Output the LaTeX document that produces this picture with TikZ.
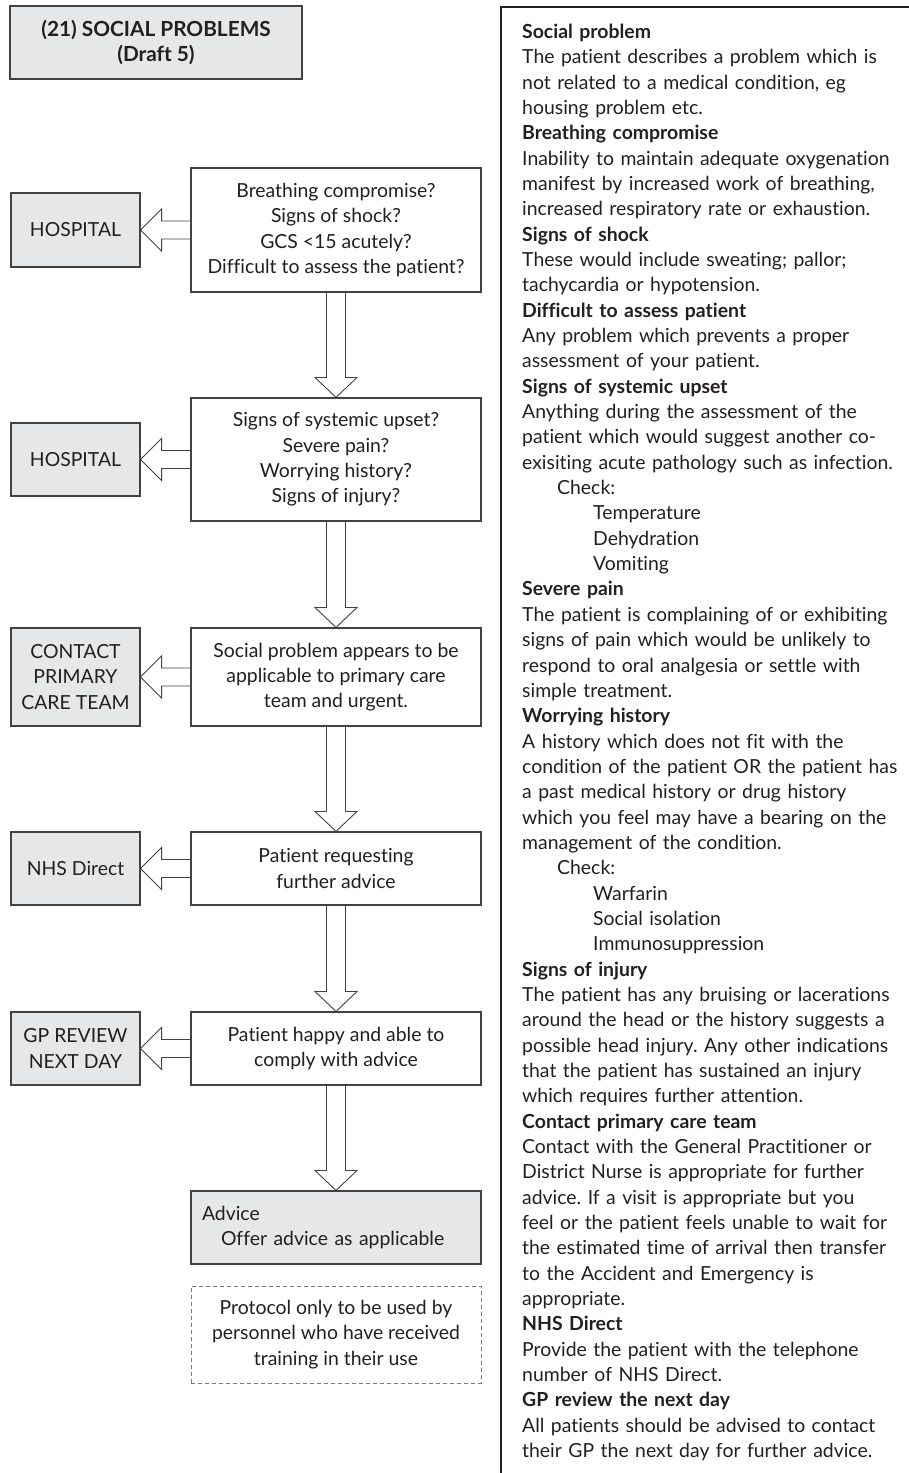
\documentclass[tikz,border=0pt]{standalone}
\usepackage{fontspec}
\setmainfont{Lato}[Ligatures=NoCommon]
\usetikzlibrary{calc}
\definecolor{boxgray}{HTML}{E6E7E8}
\definecolor{ink}{HTML}{231F20}
\newcommand\fsz{\fontsize{19.4}{25.34}\selectfont\frenchspacing}
\newcommand\tsz{\fontsize{20.8}{25.34}\selectfont\bfseries}
\begin{document}
\begin{tikzpicture}[x=1pt,y=-1pt,
  every node/.style={inner sep=0pt, text=ink},
  gbox/.style={draw=ink!85, line width=1.1pt, fill=boxgray, minimum width=129pt, minimum height=73pt, align=center, font=\fsz},
  qbox/.style={draw=ink!85, line width=1.1pt, fill=white, minimum width=290pt, align=center, font=\fsz},
  arr/.style={draw=ink!85, line width=0.9pt, line join=miter},
  notebox/.style={draw=ink!60, line width=0.9pt, dash pattern=on 4pt off 3pt, minimum width=290pt, minimum height=97pt, align=center, font=\fsz}]
\useasboundingbox (0,0) rectangle (909,1473);

% title
\node[gbox, minimum width=292pt, font=\tsz] (title) at (156,42.5) {(21) SOCIAL PROBLEMS\\(Draft 5)};

% question boxes
\node[qbox, minimum height=124pt] (q1) at (336,230) {Breathing compromise?\\Signs of shock?\\GCS <15 acutely?\\Difficult to assess the patient?};
\node[qbox, minimum height=123pt] (q2) at (336,459.5) {Signs of systemic upset?\\Severe pain?\\Worrying history?\\Signs of injury?};
\node[qbox, minimum height=98pt] (q3) at (336,677) {Social problem appears to be\\applicable to primary care\\team and urgent.};
\node[qbox, minimum height=73pt] (q4) at (336,868.5) {Patient requesting\\further advice};
\node[qbox, minimum height=73pt] (q5) at (336,1048.5) {Patient happy and able to\\comply with advice};

% outcome boxes
\node[gbox, minimum height=74pt] (o1) at (75.5,230) {HOSPITAL};
\node[gbox] (o2) at (75.5,459.5) {HOSPITAL};
\node[gbox, minimum height=98pt] (o3) at (75.5,677) {CONTACT\\PRIMARY\\CARE TEAM};
\node[gbox] (o4) at (75.5,868.5) {NHS Direct};
\node[gbox] (o5) at (75.5,1048.5) {GP REVIEW\\NEXT DAY};

% advice box
\node[gbox, minimum width=290pt, text width=268pt, align=left] (adv) at (336,1227.5) {Advice\\\hspace*{19pt}Offer advice as applicable};

% note
\node[notebox] (note) at (336,1334.5) {Protocol only to be used by\\personnel who have received\\training in their use};

% horizontal hollow arrows
\foreach \a/\b in {q1/o1,q2/o2,q3/o3,q4/o4,q5/o5}{
  \draw[arr] ($(\a.west)+(0,-9)$) -- ($(\b.east)+(21,-9)$) -- ($(\b.east)+(21,-21)$) -- (\b.east)
     -- ($(\b.east)+(21,21)$) -- ($(\b.east)+(21,9)$) -- ($(\a.west)+(0,9)$);
}
% vertical hollow arrows
\foreach \a/\b in {q1/q2,q2/q3,q3/q4,q4/q5,q5/adv}{
  \draw[arr] ($(\a.south)+(-9.5,0)$) -- ($(\b.north)+(-9.5,-20)$) -- ($(\b.north)+(-21,-20)$) -- (\b.north)
     -- ($(\b.north)+(21,-20)$) -- ($(\b.north)+(9.5,-20)$) -- ($(\a.south)+(9.5,0)$);
}

% right panel frame
\draw[ink, line width=1.2pt] (501,1473) -- (501,7) -- (909,7);

\node[anchor=base west, text width=420pt, align=left, font=\fsz] (defs) at (522,38.5) {%
\textbf{Social problem}\\
The patient describes a problem which is\\
not related to a medical condition, eg\\
housing problem etc.\\
\textbf{Breathing compromise}\\
Inability to maintain adequate oxygenation\\
manifest by increased work of breathing,\\
increased respiratory rate or exhaustion.\\
\textbf{Signs of shock}\\
These would include sweating; pallor;\\
tachycardia or hypotension.\\
\textbf{Difficult to assess patient}\\
Any problem which prevents a proper\\
assessment of your patient.\\
\textbf{Signs of systemic upset}\\
Anything during the assessment of the\\
patient which would suggest another co-\\
exisiting acute pathology such as infection.\\
\hspace*{35pt}Check:\\
\hspace*{71pt}Temperature\\
\hspace*{71pt}Dehydration\\
\hspace*{71pt}Vomiting\\
\textbf{Severe pain}\\
The patient is complaining of or exhibiting\\
signs of pain which would be unlikely to\\
respond to oral analgesia or settle with\\
simple treatment.\\
\textbf{Worrying history}\\
A history which does not fit with the\\
condition of the patient OR the patient has\\
a past medical history or drug history\\
which you feel may have a bearing on the\\
management of the condition.\\
\hspace*{35pt}Check:\\
\hspace*{71pt}Warfarin\\
\hspace*{71pt}Social isolation\\
\hspace*{71pt}Immunosuppression\\
\textbf{Signs of injury}\\
The patient has any bruising or lacerations\\
around the head or the history suggests a\\
possible head injury. Any other indications\\
that the patient has sustained an injury\\
which requires further attention.\\
\textbf{Contact primary care team}\\
Contact with the General Practitioner or\\
District Nurse is appropriate for further\\
advice. If a visit is appropriate but you\\
feel or the patient feels unable to wait for\\
the estimated time of arrival then transfer\\
to the Accident and Emergency is\\
appropriate.\\
\textbf{NHS Direct}\\
Provide the patient with the telephone\\
number of NHS Direct.\\
\textbf{GP review the next day}\\
All patients should be advised to contact\\
their GP the next day for further advice.};
\end{tikzpicture}
\end{document}
